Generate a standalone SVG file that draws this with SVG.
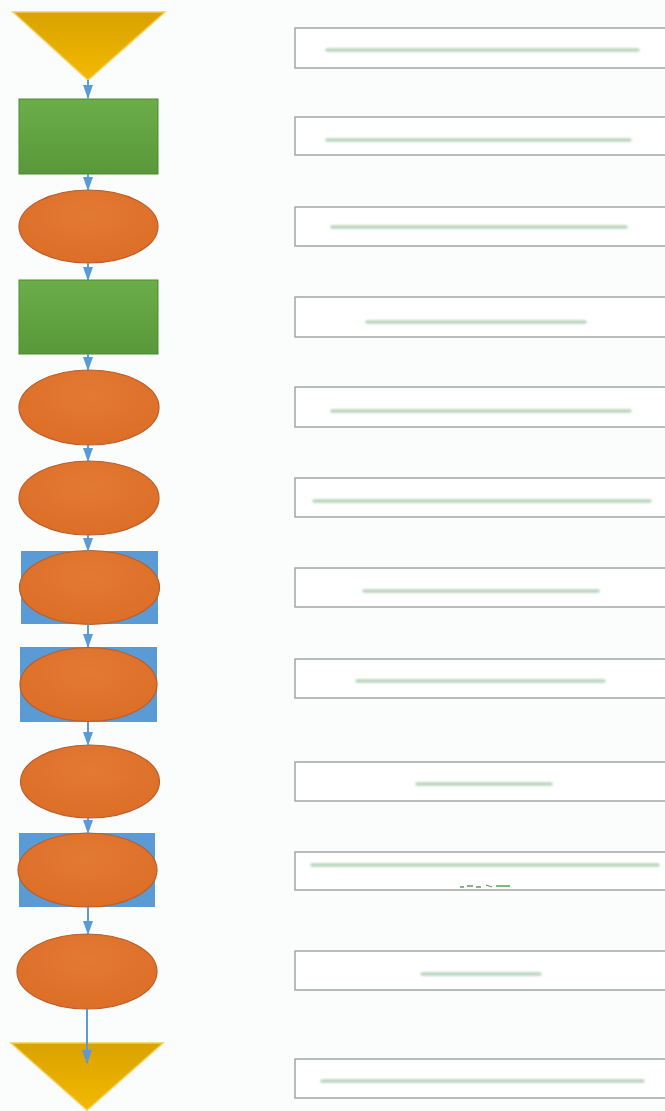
<svg xmlns="http://www.w3.org/2000/svg" width="665" height="1111" viewBox="0 0 665 1111">
<defs>
<linearGradient id="gTri" x1="0" y1="0" x2="0" y2="1"><stop offset="0" stop-color="#d9a200"/><stop offset="1" stop-color="#f3b900"/></linearGradient>
<linearGradient id="gGreen" x1="0" y1="0" x2="0" y2="1"><stop offset="0" stop-color="#6aae48"/><stop offset="1" stop-color="#58983a"/></linearGradient>
<radialGradient id="gOrange" cx="0.5" cy="0.35" r="0.65"><stop offset="0" stop-color="#e27a34"/><stop offset="1" stop-color="#dd6e27"/></radialGradient>
<filter id="blur" filterUnits="userSpaceOnUse" x="0" y="0" width="665" height="1111"><feGaussianBlur stdDeviation="1"/></filter>
<marker id="ah" viewBox="0 0 14 10" refX="13" refY="5" markerWidth="14" markerHeight="10" markerUnits="userSpaceOnUse" orient="auto"><path d="M0,0 L14,5 L0,10 Z" fill="#5b9bd5"/></marker>
</defs>
<style>
.tri{fill:url(#gTri);stroke:#f5cd55;stroke-width:1.5}
.proc{fill:url(#gGreen);stroke:#4e8a33;stroke-width:1}
.ell{fill:url(#gOrange);stroke:#bb5d28;stroke-width:1.2}
.hl{fill:#5b9bd5}
.box{fill:#ffffff;stroke:#a3a6a4;stroke-width:1.5}
.txt{stroke:#b8d4bb;stroke-width:3.5;stroke-linecap:round;filter:url(#blur)}
.conn{stroke:#5b9bd5;stroke-width:2;fill:none}
</style>
<rect x="0" y="0" width="665" height="1111" fill="#fbfdfd"/>

<g id="n1"><polygon class="tri" points="13,12 165,12 88,80"/></g>
<g id="n2"><rect class="proc" x="19" y="99" width="139" height="75"/></g>
<g id="n3"><ellipse class="ell" cx="88.5" cy="226.5" rx="69.5" ry="36.5"/></g>
<g id="n4"><rect class="proc" x="19" y="280" width="139" height="74"/></g>
<g id="n5"><ellipse class="ell" cx="89" cy="407.5" rx="70" ry="37.5"/></g>
<g id="n6"><ellipse class="ell" cx="89" cy="498" rx="70" ry="37"/></g>
<g id="n7"><rect class="hl" x="21" y="551" width="137" height="73"/><ellipse class="ell" cx="89.5" cy="587.5" rx="70" ry="37"/></g>
<g id="n8"><rect class="hl" x="20" y="647" width="137" height="75"/><ellipse class="ell" cx="88.5" cy="684.5" rx="68.5" ry="37"/></g>
<g id="n9"><ellipse class="ell" cx="90" cy="781.5" rx="69.5" ry="36.5"/></g>
<g id="n10"><rect class="hl" x="19" y="833" width="136" height="74"/><ellipse class="ell" cx="87.5" cy="870" rx="69.5" ry="37"/></g>
<g id="n11"><ellipse class="ell" cx="87" cy="971.5" rx="70" ry="37.5"/></g>
<g id="n12"><polygon class="tri" points="11,1043 163,1043 87,1110"/></g>

<g id="connectors">
<line class="conn" x1="88" y1="80" x2="88" y2="98" marker-end="url(#ah)"/>
<line class="conn" x1="88" y1="174" x2="88" y2="190" marker-end="url(#ah)"/>
<line class="conn" x1="88" y1="263" x2="88" y2="280" marker-end="url(#ah)"/>
<line class="conn" x1="88" y1="354" x2="88" y2="370" marker-end="url(#ah)"/>
<line class="conn" x1="88" y1="445" x2="88" y2="461" marker-end="url(#ah)"/>
<line class="conn" x1="88" y1="535" x2="88" y2="551" marker-end="url(#ah)"/>
<line class="conn" x1="88" y1="624" x2="88" y2="647" marker-end="url(#ah)"/>
<line class="conn" x1="88" y1="722" x2="88" y2="745" marker-end="url(#ah)"/>
<line class="conn" x1="88" y1="818" x2="88" y2="833" marker-end="url(#ah)"/>
<line class="conn" x1="88" y1="907" x2="88" y2="934" marker-end="url(#ah)"/>
<line class="conn" x1="87" y1="1009" x2="87" y2="1063" marker-end="url(#ah)"/>
</g>

<g id="b1"><rect class="box" x="295" y="28" width="385" height="40"/><line class="txt" x1="327" y1="50" x2="638" y2="50"/></g>
<g id="b2"><rect class="box" x="295" y="117" width="385" height="38"/><line class="txt" x1="327" y1="140" x2="630" y2="140"/></g>
<g id="b3"><rect class="box" x="295" y="207" width="385" height="39"/><line class="txt" x1="332" y1="227" x2="626" y2="227"/></g>
<g id="b4"><rect class="box" x="295" y="297" width="385" height="40"/><line class="txt" x1="367" y1="322" x2="585" y2="322"/></g>
<g id="b5"><rect class="box" x="295" y="387" width="385" height="40"/><line class="txt" x1="332" y1="411" x2="630" y2="411"/></g>
<g id="b6"><rect class="box" x="295" y="478" width="385" height="39"/><line class="txt" x1="314" y1="501" x2="650" y2="501"/></g>
<g id="b7"><rect class="box" x="295" y="568" width="385" height="39"/><line class="txt" x1="364" y1="591" x2="598" y2="591"/></g>
<g id="b8"><rect class="box" x="295" y="659" width="385" height="39"/><line class="txt" x1="357" y1="681" x2="604" y2="681"/></g>
<g id="b9"><rect class="box" x="295" y="762" width="385" height="39"/><line class="txt" x1="417" y1="784" x2="551" y2="784"/></g>
<g id="b10"><rect class="box" x="295" y="852" width="385" height="38"/><line class="txt" x1="312" y1="865" x2="658" y2="865"/><path d="M460,887 h4 M467,886 h6 M476,887 h5 M486,885 l6,2 M496,886 h14" stroke="#58a15a" stroke-width="1.3" fill="none"/></g>
<g id="b11"><rect class="box" x="295" y="951" width="385" height="39"/><line class="txt" x1="422" y1="974" x2="540" y2="974"/></g>
<g id="b12"><rect class="box" x="295" y="1059" width="385" height="39"/><line class="txt" x1="322" y1="1081" x2="643" y2="1081"/></g>
</svg>
